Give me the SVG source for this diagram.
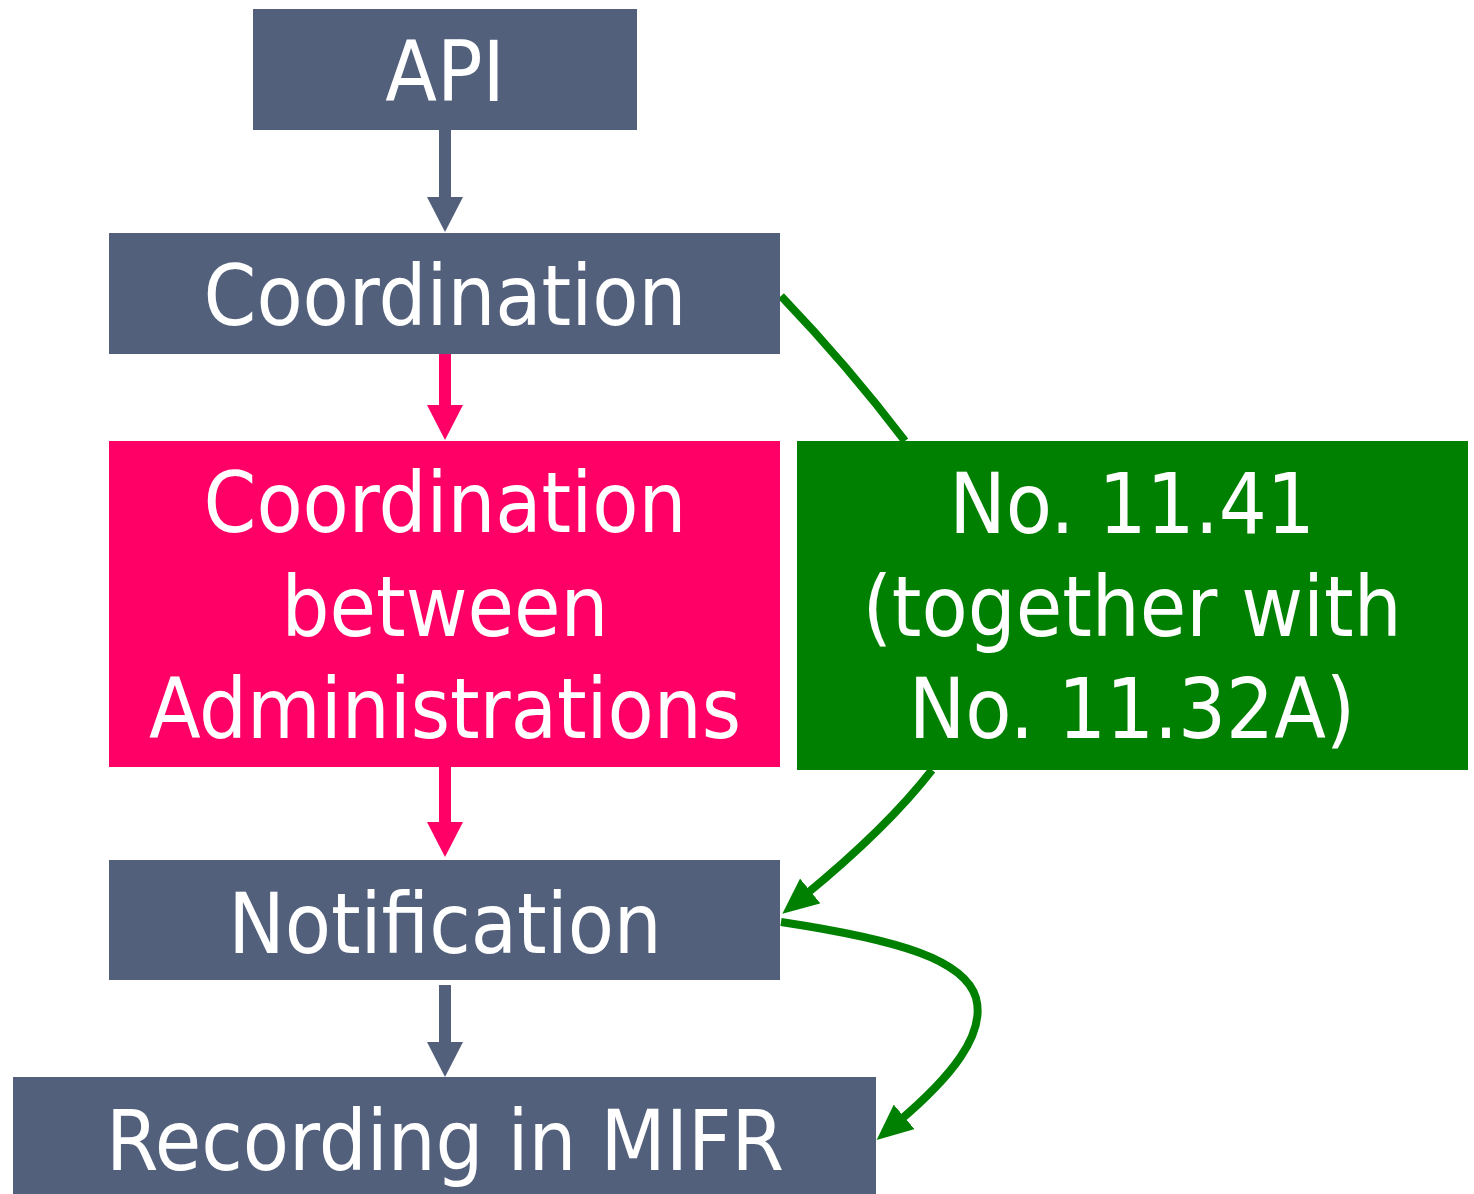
<svg xmlns="http://www.w3.org/2000/svg" width="1474" height="1194" viewBox="0 0 1474 1194">
<defs>
<style>
.gray{fill:#53607C}
.pink{fill:#FF0066}
.green{fill:#008000}
.t{font-family:"DejaVu Sans Condensed","DejaVu Sans",sans-serif;font-size:84px;fill:#ffffff;text-anchor:middle}
.sg{stroke:#53607C;stroke-width:12;fill:none}
.sp{stroke:#FF0066;stroke-width:12;fill:none}
.sgr{stroke:#008000;stroke-width:8;fill:none}
</style>
<marker id="ag" viewBox="0 0 35 36" refX="1" refY="18" markerWidth="35" markerHeight="36" markerUnits="userSpaceOnUse" orient="auto"><path d="M0,0 L35,18 L0,36 z" fill="#53607C"/></marker>
<marker id="ap" viewBox="0 0 35 36" refX="1" refY="18" markerWidth="35" markerHeight="36" markerUnits="userSpaceOnUse" orient="auto"><path d="M0,0 L35,18 L0,36 z" fill="#FF0066"/></marker>
<marker id="agr" viewBox="0 0 36 32" refX="8" refY="16" markerWidth="36" markerHeight="32" markerUnits="userSpaceOnUse" orient="auto"><path d="M0,0 L36,16 L0,32 z" fill="#008000"/></marker>
</defs>
<rect width="1474" height="1194" fill="#ffffff"/>
<g id="connectors">
<line class="sg" x1="445" y1="130" x2="445" y2="198" marker-end="url(#ag)"/>
<line class="sp" x1="445" y1="354" x2="445" y2="406" marker-end="url(#ap)"/>
<line class="sp" x1="445" y1="767" x2="445" y2="823" marker-end="url(#ap)"/>
<line class="sg" x1="445" y1="985" x2="445" y2="1043" marker-end="url(#ag)"/>
<path class="sgr" d="M781,296 Q848,366 905,441"/>
<path class="sgr" d="M932,770 Q887,828 804,896" marker-end="url(#agr)"/>
<path class="sgr" d="M781,922 C900,940 965,960 976,998 C986,1035 950,1078 898,1122" marker-end="url(#agr)"/>
</g>
<g id="api"><rect class="gray" x="253" y="9" width="384" height="121"/><text class="t" x="445" y="101">API</text></g>
<g id="coordination"><rect class="gray" x="109" y="233" width="671" height="121"/><text class="t" x="445" y="325">Coordination</text></g>
<g id="coord-admin"><rect class="pink" x="109" y="441" width="671" height="326"/>
<text class="t" x="445" y="532">Coordination</text><text class="t" x="445" y="636">between</text><text class="t" x="445" y="738">Administrations</text></g>
<g id="no1141"><rect class="green" x="797" y="441" width="671" height="329"/>
<text class="t" x="1132" y="533">No. 11.41</text><text class="t" x="1132" y="636">(together with</text><text class="t" x="1132" y="738">No. 11.32A)</text></g>
<g id="notification"><rect class="gray" x="109" y="860" width="671" height="120"/><text class="t" x="445" y="953">Notification</text></g>
<g id="recording"><rect class="gray" x="13" y="1077" width="863" height="117"/><text class="t" x="445" y="1170">Recording in MIFR</text></g>
</svg>
